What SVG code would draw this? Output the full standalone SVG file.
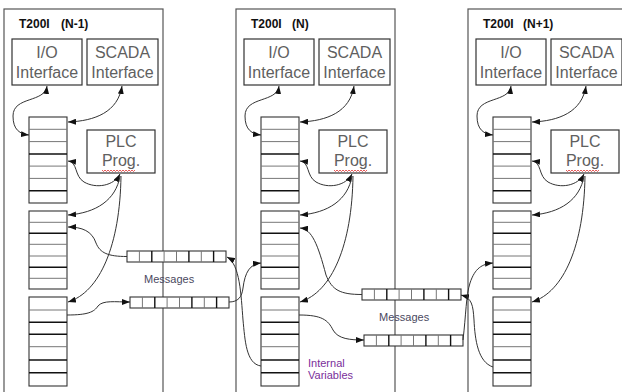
<svg xmlns="http://www.w3.org/2000/svg" width="622" height="392" viewBox="0 0 622 392">
<style>
.panel{fill:#fff;stroke:#555;stroke-width:1.2}
.box{fill:#fff;stroke:#333;stroke-width:1.2}
.btxt{font-family:"Liberation Sans",Arial,sans-serif;font-size:16px;fill:#606060;text-anchor:middle}
.title{font-family:"Liberation Sans",Arial,sans-serif;font-size:12px;font-weight:bold;fill:#111}
.cell{fill:#fff;stroke:#333;stroke-width:1.1}
.rl{stroke:#777;stroke-width:1}
.rk{stroke:#111;stroke-width:1.4}
.conn{fill:none;stroke:#333;stroke-width:1}
.lbl{font-family:"Liberation Sans",Arial,sans-serif;font-size:11px;fill:#4a4860}
.iv{font-family:"Liberation Sans",Arial,sans-serif;font-size:11px;fill:#7a2f9a}
.wavy{fill:none;stroke:#e03030;stroke-width:0.8}
</style>
<defs>
<marker id="ah" viewBox="0 0 8 6" refX="8" refY="3" markerWidth="8" markerHeight="6" markerUnits="userSpaceOnUse" orient="auto-start-reverse">
<path d="M0,0 L8,3 L0,6 z" fill="#111"/>
</marker>
<g id="stack1">
<rect class="cell" x="29" y="117" width="38" height="86"/>
<line class="rl" x1="29" y1="129.3" x2="67" y2="129.3"/>
<line class="rl" x1="29" y1="141.6" x2="67" y2="141.6"/>
<line class="rk" x1="29" y1="154" x2="67" y2="154"/>
<line class="rl" x1="29" y1="166.1" x2="67" y2="166.1"/>
<line class="rl" x1="29" y1="178.4" x2="67" y2="178.4"/>
<line class="rk" x1="29" y1="190.7" x2="67" y2="190.7"/>
</g>
<g id="stack2">
<rect class="cell" x="29" y="211" width="38" height="78"/>
<line class="rl" x1="29" y1="222.3" x2="67" y2="222.3"/>
<line class="rk" x1="29" y1="233.3" x2="67" y2="233.3"/>
<line class="rl" x1="29" y1="244.3" x2="67" y2="244.3"/>
<line class="rl" x1="29" y1="256" x2="67" y2="256"/>
<line class="rk" x1="29" y1="267.3" x2="67" y2="267.3"/>
<line class="rl" x1="29" y1="278.3" x2="67" y2="278.3"/>
</g>
<g id="stack3">
<rect class="cell" x="29" y="297" width="38" height="89"/>
<line class="rl" x1="29" y1="310" x2="67" y2="310"/>
<line class="rk" x1="29" y1="322.3" x2="67" y2="322.3"/>
<line class="rk" x1="29" y1="334.3" x2="67" y2="334.3"/>
<line class="rl" x1="29" y1="346.7" x2="67" y2="346.7"/>
<line class="rk" x1="29" y1="360" x2="67" y2="360"/>
<line class="rk" x1="29" y1="372.7" x2="67" y2="372.7"/>
</g>
<g id="queue">
<rect class="cell" x="0" y="0" width="99" height="11"/>
<line class="rl" x1="12.4" y1="0" x2="12.4" y2="11"/>
<line class="rk" x1="24.8" y1="0" x2="24.8" y2="11"/>
<line class="rl" x1="37.1" y1="0" x2="37.1" y2="11"/>
<line class="rl" x1="49.5" y1="0" x2="49.5" y2="11"/>
<line class="rk" x1="61.9" y1="0" x2="61.9" y2="11"/>
<line class="rl" x1="74.3" y1="0" x2="74.3" y2="11"/>
<line class="rk" x1="86.6" y1="0" x2="86.6" y2="11"/>
</g>
<g id="panelbody">
<rect class="panel" x="4" y="9" width="159" height="400"/>
<rect class="box" x="12" y="39" width="70" height="46"/>
<text class="btxt" x="47" y="58">I/O</text>
<text class="btxt" x="47" y="77.5">Interface</text>
<rect class="box" x="87" y="39" width="71" height="46"/>
<text class="btxt" x="122.5" y="58">SCADA</text>
<text class="btxt" x="122.5" y="77.5">Interface</text>
<rect class="box" x="87" y="130" width="68" height="43"/>
<text class="btxt" x="121" y="147">PLC</text>
<text class="btxt" x="121" y="166">Prog.</text>
<path class="wavy" d="M102,170 l1.5,1.5 l1.5,-1.5 l1.5,1.5 l1.5,-1.5 l1.5,1.5 l1.5,-1.5 l1.5,1.5 l1.5,-1.5 l1.5,1.5 l1.5,-1.5 l1.5,1.5 l1.5,-1.5 l1.5,1.5 l1.5,-1.5 l1.5,1.5 l1.5,-1.5 l1.5,1.5 l1.5,-1.5 l1.5,1.5 l1.5,-1.5 l1.5,1.5 l1.5,-1.5"/>
<use href="#stack1"/>
<use href="#stack2"/>
<use href="#stack3"/>
</g>
</defs>

<g id="panel-n-1">
<use href="#panelbody"/>
<text class="title" x="19" y="28">T200I</text>
<text class="title" x="61" y="28">(N-1)</text>
</g>
<g id="panel-n">
<use href="#panelbody" transform="translate(232,0)"/>
<text class="title" x="251" y="28">T200I</text>
<text class="title" x="292" y="28">(N)</text>
</g>
<g id="panel-n1">
<use href="#panelbody" transform="translate(464,0)"/>
<text class="title" x="483" y="28">T200I</text>
<text class="title" x="523" y="28">(N+1)</text>
</g>

<g id="queues">
<use href="#queue" x="127" y="251"/>
<use href="#queue" x="130" y="297"/>
<use href="#queue" x="362" y="289"/>
<use href="#queue" x="364" y="335"/>
</g>

<g id="labels">
<text class="lbl" x="144" y="283">Messages</text>
<text class="lbl" x="379" y="321">Messages</text>
<text class="iv" x="308" y="367">Internal</text>
<text class="iv" x="308" y="379">Variables</text>
</g>

<g id="connectors" class="conn">
<path d="M47,86 C45,103 13,96 13,116 C13,130 20,134 29,135" marker-start="url(#ah)" marker-end="url(#ah)"/>
<path d="M122,86 C118,112 95,121 68,122" marker-start="url(#ah)" marker-end="url(#ah)"/>
<path d="M68,161 C78,162 74,176 84,182 C96,189 114,186 120,174" marker-start="url(#ah)" marker-end="url(#ah)"/>
<path d="M120,176 C116,200 96,213 68,215" marker-end="url(#ah)"/>
<path d="M121,176 C120,245 100,292 68,302" marker-end="url(#ah)"/>
<path d="M279,86 C277,103 245,96 245,116 C245,130 252,134 261,135" marker-start="url(#ah)" marker-end="url(#ah)"/>
<path d="M354,86 C350,112 327,121 300,122" marker-start="url(#ah)" marker-end="url(#ah)"/>
<path d="M300,161 C310,162 306,176 316,182 C328,189 346,186 352,174" marker-start="url(#ah)" marker-end="url(#ah)"/>
<path d="M352,176 C348,200 328,213 300,215" marker-end="url(#ah)"/>
<path d="M353,176 C352,245 332,292 300,302" marker-end="url(#ah)"/>
<path d="M511,86 C509,103 477,96 477,116 C477,130 484,134 493,135" marker-start="url(#ah)" marker-end="url(#ah)"/>
<path d="M586,86 C582,112 559,121 532,122" marker-start="url(#ah)" marker-end="url(#ah)"/>
<path d="M532,161 C542,162 538,176 548,182 C560,189 578,186 584,174" marker-start="url(#ah)" marker-end="url(#ah)"/>
<path d="M584,176 C580,200 560,213 532,215" marker-end="url(#ah)"/>
<path d="M585,176 C584,245 564,292 532,302" marker-end="url(#ah)"/>
<path d="M127,256.5 C108,256.5 100,253 96,243 C92,231 82,227 68,227" marker-end="url(#ah)"/>
<path d="M67,315 C88,315 94,312 98,306 C103,300 115,302 130,302" marker-end="url(#ah)"/>
<path d="M261,366 C246,364 245,340 243,320 C241,295 240,264 227,257" marker-end="url(#ah)"/>
<path d="M229,302 C238,302 242,297 243,288 C245,272 250,264 261,263" marker-end="url(#ah)"/>
<path d="M362,294.5 C340,294.5 332,290 326,275 C318,245 312,229 300,228" marker-end="url(#ah)"/>
<path d="M299,315 C322,315 328,320 333,330 C338,339 350,340 364,340" marker-end="url(#ah)"/>
<path d="M493,367 C478,362 475,340 474,320 C473,305 472,298 461,295" marker-end="url(#ah)"/>
<path d="M463,340 C466,315 466,295 470,283 C475,268 482,264 493,263" marker-end="url(#ah)"/>
</g>
</svg>
